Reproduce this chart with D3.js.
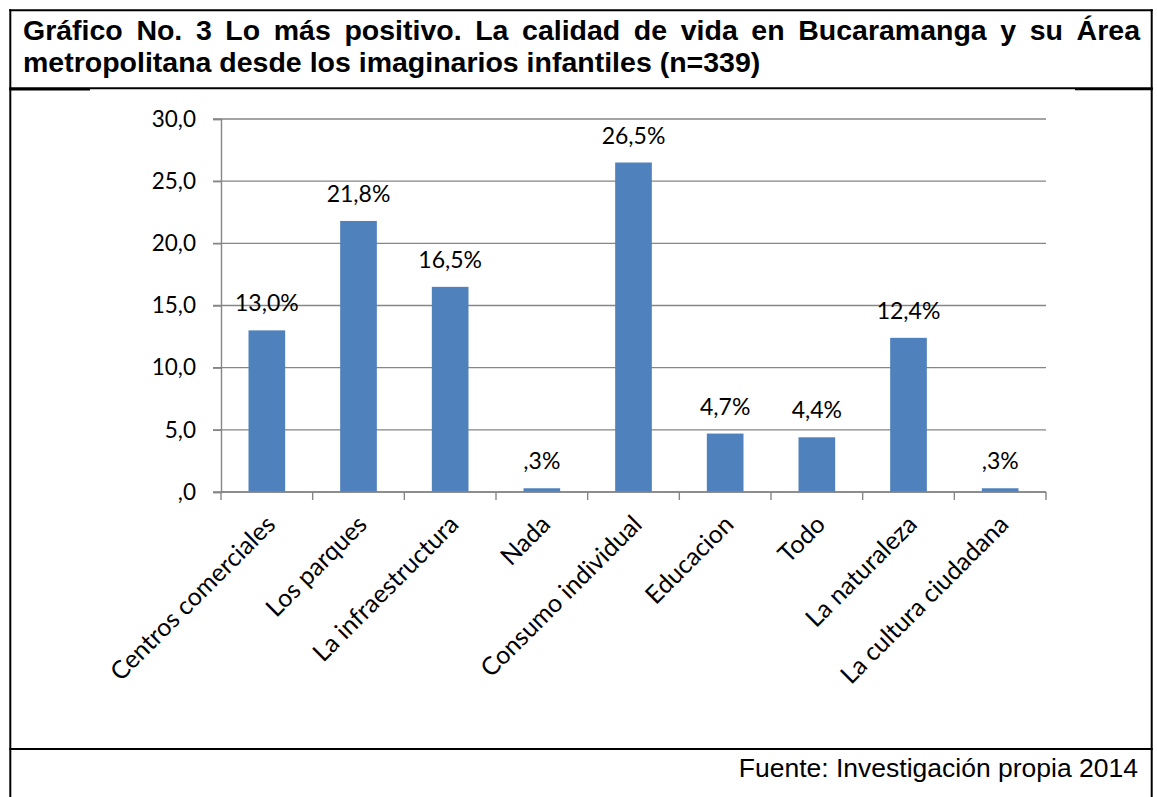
<!DOCTYPE html>
<html>
<head>
<meta charset="utf-8">
<script src="https://cdn.jsdelivr.net/npm/d3@7/dist/d3.min.js"></script>
<style>
  html, body { margin: 0; padding: 0; background: #fff; }
  svg { display: block; }
</style>
</head>
<body>
<svg id="chart" width="1157" height="797"></svg>
<script>
const categories = ["Centros comerciales", "Los parques", "La infraestructura", "Nada", "Consumo individual", "Educacion", "Todo", "La naturaleza", "La cultura ciudadana"];
const values = [13.0, 21.8, 16.5, 0.3, 26.5, 4.7, 4.4, 12.4, 0.3];
const yTicks = [0, 5, 10, 15, 20, 25, 30];
const titleLines = ["Gráfico No. 3 Lo más positivo. La calidad de vida en Bucaramanga y su Área",
                    "metropolitana desde los imaginarios infantiles (n=339)"];
const sourceText = "Fuente: Investigación propia 2014";

const fmt = v => { let s = v.toFixed(1).replace(".", ","); if (s.startsWith("0,")) s = s.slice(1); return s; };

const svg = d3.select("#chart");
const lineCol = "#000";

// Frame
svg.append("line").attr("x1", 10.3).attr("x2", 10.3).attr("y1", 9.3).attr("y2", 797).attr("stroke", lineCol).attr("stroke-width", 2);
svg.append("line").attr("x1", 1151.7).attr("x2", 1151.7).attr("y1", 9.3).attr("y2", 797).attr("stroke", lineCol).attr("stroke-width", 2);
svg.append("line").attr("x1", 9.3).attr("x2", 1152.7).attr("y1", 10.3).attr("y2", 10.3).attr("stroke", lineCol).attr("stroke-width", 2);
svg.append("line").attr("x1", 9.3).attr("x2", 1152.7).attr("y1", 88.3).attr("y2", 88.3).attr("stroke", lineCol).attr("stroke-width", 2);
svg.append("line").attr("x1", 9.3).attr("x2", 90).attr("y1", 89.5).attr("y2", 89.5).attr("stroke", lineCol).attr("stroke-width", 2);
svg.append("line").attr("x1", 1075).attr("x2", 1152.7).attr("y1", 89.3).attr("y2", 89.3).attr("stroke", lineCol).attr("stroke-width", 2);
svg.append("line").attr("x1", 9.3).attr("x2", 1152.7).attr("y1", 749).attr("y2", 749).attr("stroke", lineCol).attr("stroke-width", 2);

// Title
const titleFont = "'Liberation Sans', Arial, sans-serif";
const t1 = svg.append("text").attr("x", 23).attr("y", 39.5)
  .attr("font-family", titleFont).attr("font-weight", "bold").attr("font-size", 28.5).attr("fill", "#000")
  .text(titleLines[0]);
const natural = t1.node().getComputedTextLength();
const spaces = titleLines[0].split(" ").length - 1;
const target = 1140 - 23;
t1.attr("word-spacing", (target - natural) / spaces);
svg.append("text").attr("x", 23).attr("y", 71.5)
  .attr("font-family", titleFont).attr("font-weight", "bold").attr("font-size", 28.5).attr("fill", "#000")
  .text(titleLines[1]);

// Source
svg.append("text").attr("x", 1138).attr("y", 777).attr("text-anchor", "end")
  .attr("font-family", titleFont).attr("font-size", 26.5).attr("fill", "#000").text(sourceText);

// Chart
const x0 = 221, x1 = 1046, yZero = 492, yTop = 119;
const x = d3.scaleBand().domain(categories).range([x0, x1]).paddingInner(0.6).paddingOuter(0.3);
const y = d3.scaleLinear().domain([0, 30]).range([yZero, yTop]);
const chartFont = "Lato, 'Open Sans', sans-serif";
const gridCol = "#868686";

// gridlines
svg.append("g").selectAll("line").data(yTicks).join("line")
  .attr("x1", x0 - 8).attr("x2", x1).attr("y1", d => y(d)).attr("y2", d => y(d))
  .attr("stroke", gridCol).attr("stroke-width", 1.4);

// y axis
const yAxis = d3.axisLeft(y).tickValues(yTicks).tickSize(8).tickPadding(17).tickFormat(fmt);
const gy = svg.append("g").attr("transform", `translate(${x0},0)`).call(yAxis);
gy.select(".domain").attr("stroke", gridCol).attr("stroke-width", 1.4);
gy.selectAll(".tick line").attr("stroke", gridCol).attr("stroke-width", 1.4);
gy.selectAll(".tick text").attr("font-family", chartFont).attr("font-size", 22.5).attr("fill", "#000");

// bars
svg.append("g").selectAll("rect").data(values).join("rect")
  .attr("x", (d, i) => x(categories[i])).attr("width", x.bandwidth())
  .attr("y", d => y(d)).attr("height", d => yZero - y(d)).attr("fill", "#4F81BD");

// x axis (ticks at band boundaries)
const gx = svg.append("g");
gx.append("line").attr("x1", x0).attr("x2", x1).attr("y1", yZero).attr("y2", yZero).attr("stroke", gridCol).attr("stroke-width", 1.4);
gx.selectAll("line.tk").data(d3.range(categories.length + 1)).join("line").attr("class", "tk")
  .attr("x1", i => x0 + i * (x1 - x0) / categories.length).attr("x2", i => x0 + i * (x1 - x0) / categories.length)
  .attr("y1", yZero).attr("y2", yZero + 8).attr("stroke", gridCol).attr("stroke-width", 1.4);

// x labels
svg.append("g").selectAll("text").data(categories).join("text")
  .attr("transform", d => `translate(${x(d) + x.bandwidth() / 2 + 10},${yZero + 34}) rotate(-45)`)
  .attr("text-anchor", "end").attr("font-family", chartFont).attr("font-size", 25).attr("fill", "#000")
  .text(d => d);

// value labels
svg.append("g").selectAll("text").data(values).join("text")
  .attr("x", (d, i) => x(categories[i]) + x.bandwidth() / 2).attr("y", d => y(d) - 19)
  .attr("text-anchor", "middle").attr("font-family", chartFont).attr("font-size", 23).attr("fill", "#000")
  .text(d => fmt(d) + "%");
</script>
</body>
</html>
